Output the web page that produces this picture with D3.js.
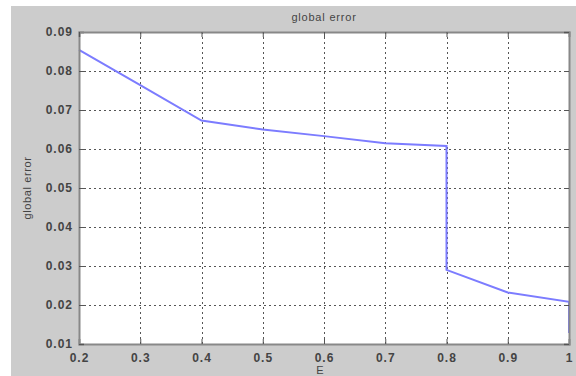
<!DOCTYPE html>
<html>
  <head>
    <meta charset="utf-8">
    <title>global error</title>
    <script src="https://d3js.org/d3.v7.min.js"></script>
    <style>
      body { margin: 0; background: #fff; }
      text { font-family: "Liberation Sans", Arial, sans-serif; fill: #444; }
      .tick text { font-size: 12px; font-weight: bold; letter-spacing: 1px; }
      .grid line { stroke: #555; stroke-width: 1; stroke-dasharray: 2,3; }
    </style>
  </head>
  <body>
    <svg id="chart" width="576" height="376"></svg>
    <script>
      // data
      var eValues = [0.2, 0.3, 0.4, 0.5, 0.6, 0.7, 0.8, 0.8, 0.9, 1, 1];
      var errValues = [0.0854, 0.0764, 0.0673, 0.0650, 0.0633, 0.0615, 0.0608, 0.0290, 0.0232, 0.0208, 0.0128];
      var xTicks = [0.2, 0.3, 0.4, 0.5, 0.6, 0.7, 0.8, 0.9, 1];
      var yTicks = [0.01, 0.02, 0.03, 0.04, 0.05, 0.06, 0.07, 0.08, 0.09];

      var svg = d3.select("#chart");
      var plotL = 79, plotR = 569, plotT = 32, plotB = 344;

      svg.append("rect")
        .attr("x", 11).attr("y", 6)
        .attr("width", 565).attr("height", 370)
        .attr("fill", "#cccccc");

      var x = d3.scaleLinear().domain([0.2, 1]).range([plotL, plotR]);
      var y = d3.scaleLinear().domain([0.01, 0.09]).range([plotB, plotT]);

      svg.append("rect")
        .attr("x", plotL).attr("y", plotT)
        .attr("width", plotR - plotL).attr("height", plotB - plotT)
        .attr("fill", "#fff");

      // grid
      var grid = svg.append("g").classed("grid", true);
      grid.selectAll(".gx")
          .data(xTicks.slice(1, -1))
        .enter().append("line")
          .attr("x1", function(d) { return Math.round(x(d)) + 0.5; })
          .attr("x2", function(d) { return Math.round(x(d)) + 0.5; })
          .attr("y1", plotT).attr("y2", plotB);
      grid.selectAll(".gy")
          .data(yTicks.slice(1, -1))
        .enter().append("line")
          .attr("y1", function(d) { return Math.round(y(d)) + 0.5; })
          .attr("y2", function(d) { return Math.round(y(d)) + 0.5; })
          .attr("x1", plotL).attr("x2", plotR);

      // series
      var line = d3.line()
        .x(function(d) { return x(d[0]); })
        .y(function(d) { return y(d[1]); });
      svg.append("path")
        .datum(d3.zip(eValues, errValues))
        .attr("d", line)
        .attr("fill", "none")
        .attr("stroke", "#7c7cff")
        .attr("stroke-width", 2);

      // axes
      var xAxis = d3.axisBottom(x).tickValues(xTicks).tickSize(-5).tickPadding(9)
        .tickFormat(function(d) { return d === 1 ? "1" : d3.format(".1f")(d); });
      var yAxis = d3.axisLeft(y).tickValues(yTicks).tickSize(-5).tickPadding(6)
        .tickFormat(d3.format(".2f"));
      var xTop = d3.axisTop(x).tickValues(xTicks).tickSize(-5).tickFormat("");
      var yRight = d3.axisRight(y).tickValues(yTicks).tickSize(-5).tickFormat("");

      [
        [xAxis, "translate(0," + plotB + ")"],
        [yAxis, "translate(" + plotL + ",0)"],
        [xTop, "translate(0," + plotT + ")"],
        [yRight, "translate(" + plotR + ",0)"]
      ].forEach(function(a) {
        var g = svg.append("g").attr("transform", a[1]).call(a[0]);
        g.select(".domain").attr("stroke", "#888").attr("stroke-width", 2);
        g.selectAll(".tick line").attr("stroke", "#555");
        g.selectAll(".tick text").attr("fill", "#4a4a55");
      });

      svg.append("text")
        .attr("x", (plotL + plotR) / 2).attr("y", 21)
        .attr("text-anchor", "middle")
        .style("font-size", "11px")
        .style("letter-spacing", "0.8px")
        .text("global error");
      svg.append("text")
        .attr("x", 320).attr("y", 374)
        .attr("text-anchor", "middle")
        .style("font-size", "11px")
        .text("E");
      svg.append("text")
        .attr("transform", "translate(31," + (plotT + plotB) / 2 + ") rotate(-90)")
        .attr("text-anchor", "middle")
        .style("font-size", "11px")
        .style("letter-spacing", "0.6px")
        .text("global error");
    </script>
  </body>
</html>
